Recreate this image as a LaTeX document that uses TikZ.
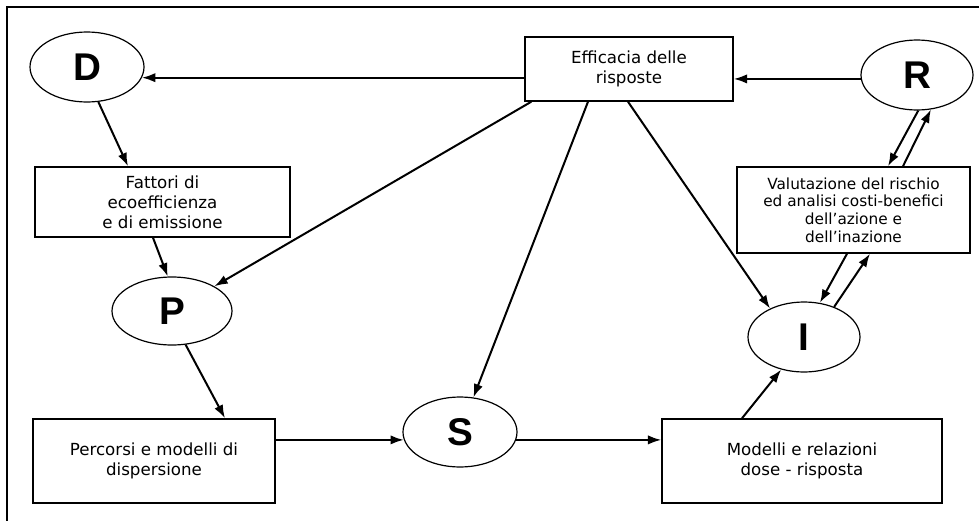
\documentclass[tikz,border=0pt]{standalone}
\usepackage{fontspec}
\setmainfont{DejaVu Sans}
\newfontfamily\letterfont{Liberation Sans}
\usetikzlibrary{arrows.meta,calc,shapes.geometric}
\begin{document}
\begin{tikzpicture}[x=0.75pt,y=-0.75pt,
  box/.style={draw, line width=1.1pt, rectangle, inner sep=0pt, align=center,
    font=\fontsize{12.5}{15}\selectfont},
  ell/.style={draw, line width=0.9pt, ellipse, inner sep=0pt,
    font=\letterfont\bfseries\fontsize{29}{30}\selectfont},
  arr/.style={-{Latex[length=10pt,width=7pt]}, line width=1.5pt},
  frame/.style={line width=2.2pt}]
\useasboundingbox[fill=white] (0,0) rectangle (979,521);
\draw[frame] (979,7) -- (7,7) -- (7,521);

% ellipses
\node[ell, minimum width=85.5pt, minimum height=52.5pt] (D) at (87,67) {D};
\node[ell, minimum width=84pt, minimum height=52.5pt] (R) at (917,75) {R};
\node[ell, minimum width=90pt, minimum height=51pt] (P) at (172,311) {P};
\node[ell, minimum width=85.5pt, minimum height=52.5pt] (S) at (460,432) {S};
\node[ell, minimum width=84pt, minimum height=52.5pt] (I) at (804,337) {I};

% boxes
\node[box, minimum width=156pt, minimum height=48pt] (E) at (629,69) {Efficacia delle\\risposte};
\node[box, minimum width=191.25pt, minimum height=52.5pt] (F) at (162.5,202) {Fattori di\\ecoefficienza\\e di emissione};
\node[box, minimum width=174.75pt, minimum height=64.5pt, font=\fontsize{11.5}{13.2}\selectfont] (V) at (853.5,210) {Valutazione del rischio\\ed analisi costi-benefici\\dell’azione e\\dell’inazione};
\node[box, minimum width=181.5pt, minimum height=63pt] (Pc) at (154,461) {Percorsi e modelli di\\dispersione};
\node[box, minimum width=210pt, minimum height=63pt] (M) at (802,461) {Modelli e relazioni\\dose - risposta};

% connectors
\draw[arr] (E.west |- D.-11.5) -- (D.-11.5);
\draw[arr] (R.-176) -- (E.east |- R.-176);
\draw[arr] (D.-72.5) -- ($(F.north)+(-34.5,0)$);
\draw[arr] ($(F.south)+(-9.5,0)$) -- (P.97);
\draw[arr] ($(E.south west)+(7,0)$) -- (P);
\draw[arr] ($(E.south)+(-41,0)$) -- (S);
\draw[arr] ($(E.south)+(-1,0)$) -- (I.140);
\draw[arr] (P.-68) -- ($(Pc.north)+(71,0)$);
\draw[arr] (Pc.east |- S.-172) -- (S.-172);
\draw[arr] (S.-8) -- (M.west |- S.-8);
\draw[arr] ($(M.north)+(-60,0)$) -- (I.-125);
\draw[arr] ($(V.south)+(-6.5,0)$) -- (I.65);
\draw[arr] (I.45) -- ($(V.south)+(16.5,0)$);
\draw[arr] (R.-88) -- ($(V.north)+(34.5,0)$);
\draw[arr] ($(V.north)+(49.5,0)$) -- (R.-68);
\end{tikzpicture}
\end{document}
